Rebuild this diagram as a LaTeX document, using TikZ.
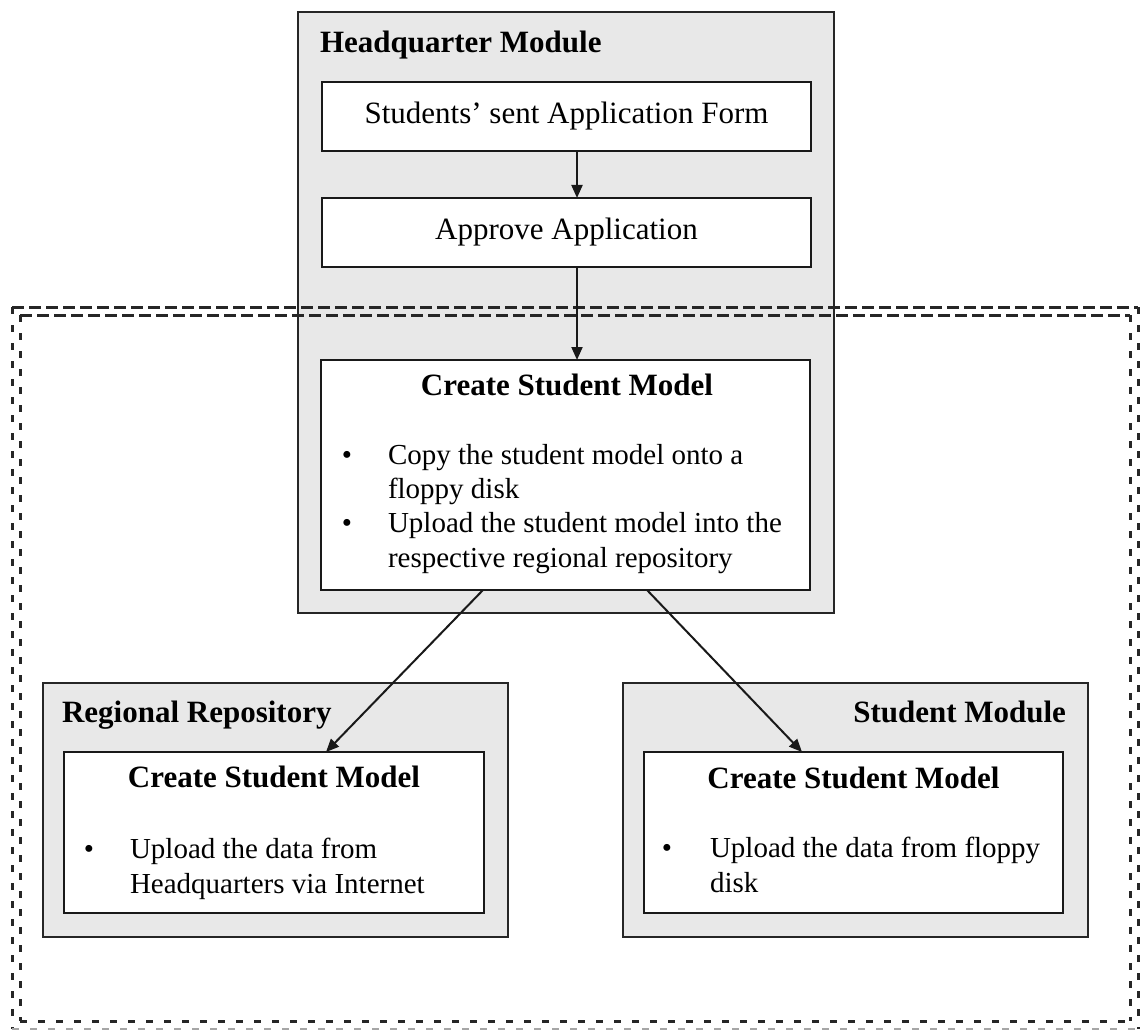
\documentclass[tikz,border=0pt]{standalone}
\usepackage{fontspec}
\setmainfont{Liberation Serif}
\usetikzlibrary{arrows.meta}
\newcommand\regfont{\fontsize{29}{34}\selectfont}
\newcommand\bigregfont{\fontsize{31}{36}\selectfont}
\newcommand\ttlfont{\fontsize{31}{36}\selectfont\bfseries}
\tikzset{
 outerbox/.style={draw=black!85, line width=2.5pt, fill=black!9, rectangle, inner sep=0pt, outer sep=0pt},
 innerbox/.style={draw=black!90, line width=2.5pt, fill=white, rectangle, inner sep=0pt, outer sep=0pt, font=\bigregfont},
 txt/.style={inner sep=0pt, outer sep=0pt, font=\regfont},
 ttl/.style={inner sep=0pt, outer sep=0pt, font=\ttlfont},
 conn/.style={draw=black!90, line width=2pt, -{Triangle[length=13pt,width=11pt]}},
 dashtop/.style={line width=3pt, draw=black!85, dash pattern=on 12pt off 5pt},
 dashside/.style={line width=3pt, draw=black!85, dash pattern=on 7pt off 11pt},
}
\begin{document}
\begin{tikzpicture}[x=1pt,y=-1pt]
\useasboundingbox (0,0) rectangle (1141,1030);
\fill[white] (0,0) rectangle (1141,1030);
% Headquarter module
\node[outerbox, minimum width=536pt, minimum height=601pt] (hq) at (566,312.5) {};
\node[ttl, anchor=base west] (hqt) at (320,53) {Headquarter Module};
\node[innerbox, minimum width=489pt, minimum height=69pt] (b1) at (566.5,116.5) {Students’ sent Application Form};
\node[innerbox, minimum width=489pt, minimum height=69pt] (b2) at (566.5,232.5) {Approve Application};
% dashed double boundary
\draw[dashtop] (12,307) -- (1138,307);
\draw[dashtop] (20,315) -- (1130,315);
\draw[dashside] (12,307) -- (12,1029);
\draw[dashside] (20,315) -- (20,1021);
\draw[dashside] (1138,307) -- (1138,1029);
\draw[dashside] (1130,315) -- (1130,1021);
\draw[dashside] (20,1021) -- (1130,1021);
\draw[dashside, draw=black!35] (12,1029) -- (1138,1029);
% create student model (HQ)
\node[innerbox, minimum width=489pt, minimum height=230pt] (csm) at (565.5,475) {};
\node[ttl, anchor=base] (csmt) at (567,395) {Create Student Model};
\node[txt, anchor=base] (csmb1) at (347,464) {•};
\node[txt, anchor=base west] (csml1) at (388,464) {Copy the student model onto a};
\node[txt, anchor=base west] (csml2) at (388,498) {floppy disk};
\node[txt, anchor=base] (csmb2) at (347,532) {•};
\node[txt, anchor=base west] (csml3) at (388,532) {Upload the student model into the};
\node[txt, anchor=base west] (csml4) at (388,567) {respective regional repository};
% Regional repository
\node[outerbox, minimum width=465pt, minimum height=254pt] (reg) at (275.5,810) {};
\node[ttl, anchor=base west] (regt) at (62,722) {Regional Repository};
\node[innerbox, minimum width=420pt, minimum height=161pt] (regin) at (274,832.5) {};
\node[ttl, anchor=base] (regint) at (274,787) {Create Student Model};
\node[txt, anchor=base] (regb) at (89,858) {•};
\node[txt, anchor=base west] (regl1) at (130,858) {Upload the data from};
\node[txt, anchor=base west] (regl2) at (130,893) {Headquarters via Internet};
% Student module
\node[outerbox, minimum width=465pt, minimum height=254pt] (stu) at (855.5,810) {};
\node[ttl, anchor=base east] (stut) at (1066,722) {Student Module};
\node[innerbox, minimum width=419pt, minimum height=161pt] (stuin) at (853.5,832.5) {};
\node[ttl, anchor=base] (stuint) at (853.5,788) {Create Student Model};
\node[txt, anchor=base] (stub) at (667,857) {•};
\node[txt, anchor=base west] (stul1) at (710,857) {Upload the data from floppy};
\node[txt, anchor=base west] (stul2) at (710,892) {disk};
% connectors
\draw[conn] ([xshift=255pt]b1.south west) -- ([xshift=255pt]b2.north west);
\draw[conn] ([xshift=255pt]b2.south west) -- ([xshift=256pt]csm.north west);
\draw[conn] ([xshift=162pt]csm.south west) -- ([xshift=262pt]regin.north west);
\draw[conn] ([xshift=326pt]csm.south west) -- ([xshift=158pt]stuin.north west);
\end{tikzpicture}
\end{document}
